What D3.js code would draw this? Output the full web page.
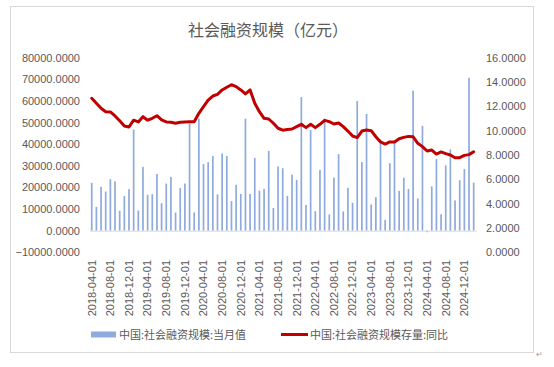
<!DOCTYPE html>
<html><head><meta charset="utf-8">
<script src="https://cdn.jsdelivr.net/npm/d3@7"></script>
<style>
html,body{margin:0;padding:0;background:#fff;}
svg{display:block;}
</style></head>
<body>
<svg id="chart" width="554" height="367"></svg>
<script>
const title = "社会融资规模（亿元）";
const seriesNames = ["中国:社会融资规模:当月值", "中国:社会融资规模存量:同比"];
const months = [
"2018-04-01","2018-05-01","2018-06-01","2018-07-01","2018-08-01","2018-09-01","2018-10-01","2018-11-01","2018-12-01",
"2019-01-01","2019-02-01","2019-03-01","2019-04-01","2019-05-01","2019-06-01","2019-07-01","2019-08-01","2019-09-01","2019-10-01","2019-11-01","2019-12-01",
"2020-01-01","2020-02-01","2020-03-01","2020-04-01","2020-05-01","2020-06-01","2020-07-01","2020-08-01","2020-09-01","2020-10-01","2020-11-01","2020-12-01",
"2021-01-01","2021-02-01","2021-03-01","2021-04-01","2021-05-01","2021-06-01","2021-07-01","2021-08-01","2021-09-01","2021-10-01","2021-11-01","2021-12-01",
"2022-01-01","2022-02-01","2022-03-01","2022-04-01","2022-05-01","2022-06-01","2022-07-01","2022-08-01","2022-09-01","2022-10-01","2022-11-01","2022-12-01",
"2023-01-01","2023-02-01","2023-03-01","2023-04-01","2023-05-01","2023-06-01","2023-07-01","2023-08-01","2023-09-01","2023-10-01","2023-11-01","2023-12-01",
"2024-01-01","2024-02-01","2024-03-01","2024-04-01","2024-05-01","2024-06-01","2024-07-01","2024-08-01","2024-09-01","2024-10-01","2024-11-01","2024-12-01",
"2025-01-01","2025-02-01"];
const monthlyFlow = [22100, 11000, 20300, 18100, 23800, 22800, 9200, 16000, 19200,
 46800, 9300, 29500, 16600, 16900, 26200, 12700, 21800, 24900, 8400, 19700, 21800,
 49600, 8400, 51800, 30800, 31700, 34500, 16800, 35700, 34500, 13700, 21200, 17000,
 51800, 17000, 33700, 18500, 19300, 36900, 10500, 29700, 28900, 16100, 25900, 23500,
 61800, 11900, 46600, 9000, 28100, 51800, 7500, 24500, 35400, 8900, 19800, 12900,
 60000, 31700, 54000, 12100, 15500, 42200, 5000, 31200, 41300, 18400, 24500, 19300,
 64800, 14900, 48500, -700, 20500, 33100, 7600, 30200, 37600, 14000, 23300, 28500,
 70700, 22200];
const stockYoY = [12.66, 12.25, 11.84, 11.56, 11.54, 11.21, 10.82, 10.39, 10.30,
 10.86, 10.72, 11.15, 10.86, 11.02, 11.23, 10.88, 10.72, 10.69, 10.61, 10.69, 10.72,
 10.74, 10.74, 11.43, 11.97, 12.52, 12.85, 12.99, 13.35, 13.57, 13.78, 13.62, 13.35,
 13.02, 13.35, 12.25, 11.56, 11.02, 10.96, 10.61, 10.20, 10.04, 10.10, 10.14, 10.33,
 10.52, 10.25, 10.52, 10.25, 10.52, 10.85, 10.74, 10.55, 10.63, 10.33, 9.97, 9.56,
 9.43, 9.97, 10.06, 10.00, 9.50, 9.07, 8.90, 9.07, 9.07, 9.34, 9.45, 9.53,
 9.50, 8.96, 8.69, 8.33, 8.41, 8.08, 8.25, 8.11, 8.00, 7.78, 7.78, 7.97,
 8.03, 8.27];
const leftTicks = [-10000, 0, 10000, 20000, 30000, 40000, 50000, 60000, 70000, 80000];
const rightTicks = [0, 2, 4, 6, 8, 10, 12, 14, 16];

const svg = d3.select("#chart");
const txt = "#595959";
const font = "'Liberation Sans', Arial, sans-serif";
const cjk = "'Noto Sans CJK SC', sans-serif";

// chart border
svg.append("rect").attr("x", 10.5).attr("y", 6.5).attr("width", 523).attr("height", 346)
  .attr("fill", "#fff").attr("stroke", "#D9D9D9");

svg.append("text").attr("x", 268).attr("y", 36).attr("text-anchor", "middle")
  .attr("font-family", cjk).attr("font-size", 16).attr("fill", txt).text(title);

const plotTop = 57.7, plotBottom = 252.3;
const x = d3.scaleBand().domain(months).range([89.4, 476]);
const yL = d3.scaleLinear().domain([-10000, 80000]).range([plotBottom, plotTop]);
const yR = d3.scaleLinear().domain([0, 16]).range([plotBottom, plotTop]);

// left axis
const axL = svg.append("g").attr("transform", "translate(82,0)")
  .call(d3.axisLeft(yL).tickValues(leftTicks).tickSize(0).tickPadding(2).tickFormat(d => d3.format(".4f")(d)));
axL.select(".domain").remove();
axL.selectAll("text").attr("font-family", font).attr("font-size", 11).attr("fill", txt);

// right axis
const axR = svg.append("g").attr("transform", "translate(484,0)")
  .call(d3.axisRight(yR).tickValues(rightTicks).tickSize(0).tickPadding(2).tickFormat(d => d3.format(".4f")(d)));
axR.select(".domain").remove();
axR.selectAll("text").attr("font-family", font).attr("font-size", 11).attr("fill", txt);

// bars
const barW = 1.7;
svg.append("g").selectAll("rect").data(monthlyFlow).join("rect")
  .attr("x", (d, i) => x(months[i]) + x.bandwidth() / 2 - barW / 2)
  .attr("y", d => yL(Math.max(0, d)))
  .attr("width", barW)
  .attr("height", d => Math.abs(yL(d) - yL(0)))
  .attr("fill", "#8FAADC");

// category axis at zero
const axX = svg.append("g").attr("transform", `translate(0,${yL(0)})`)
  .call(d3.axisBottom(x).tickValues(months.filter((m, i) => i % 4 === 0)).tickSize(0).tickPadding(0));
axX.select(".domain").attr("stroke", "#D9D9D9").attr("stroke-width", 1);
axX.selectAll("text")
  .attr("font-family", font).attr("font-size", 11).attr("fill", txt)
  .attr("transform", "rotate(-90)")
  .attr("text-anchor", "end")
  .attr("x", -(260 - yL(0))).attr("y", 0).attr("dy", "0.35em");

// line
const line = d3.line()
  .x((d, i) => x(months[i]) + x.bandwidth() / 2)
  .y(d => yR(d));
svg.append("path").datum(stockYoY).attr("d", line)
  .attr("fill", "none").attr("stroke", "#C00000").attr("stroke-width", 3)
  .attr("stroke-linejoin", "round").attr("stroke-linecap", "round");

// legend
const lg = svg.append("g");
lg.append("rect").attr("x", 91).attr("y", 331.5).attr("width", 25).attr("height", 6).attr("fill", "#8FAADC");
lg.append("text").attr("x", 119).attr("y", 338.5).attr("font-family", cjk).attr("font-size", 11)
  .attr("fill", txt).text(seriesNames[0]);
lg.append("line").attr("x1", 281).attr("x2", 308).attr("y1", 334.5).attr("y2", 334.5)
  .attr("stroke", "#C00000").attr("stroke-width", 3);
lg.append("text").attr("x", 310).attr("y", 338.5).attr("font-family", cjk).attr("font-size", 11)
  .attr("fill", txt).text(seriesNames[1]);

svg.append("text").attr("x", 536).attr("y", 357).attr("font-family", font).attr("font-size", 8)
  .attr("fill", "#999").text("↵");
</script>
</body></html>
